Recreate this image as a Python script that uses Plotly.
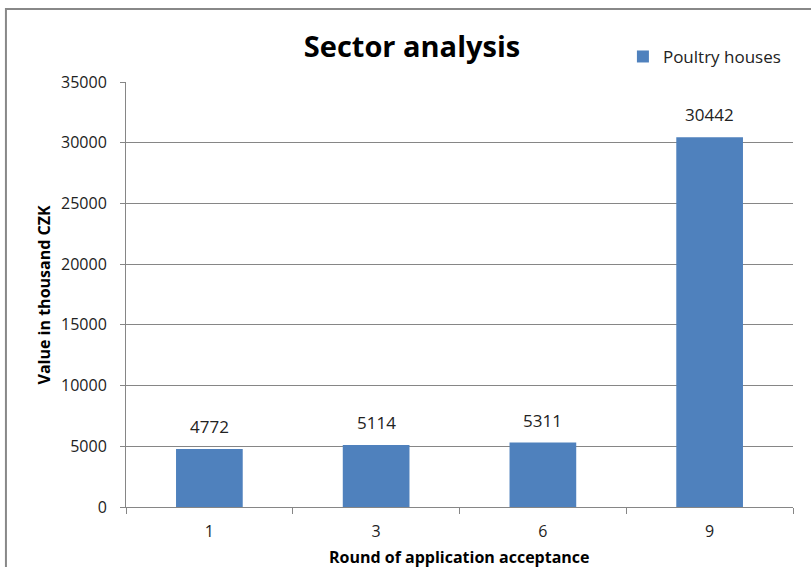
import plotly.graph_objects as go

# Funding by round of application acceptance, in thousand CZK
rounds = ["1", "3", "6", "9"]
poultry_houses = [4772, 5114, 5311, 30442]
y_ticks = [0, 5000, 10000, 15000, 20000, 25000, 30000, 35000]

BAR = "#4F81BD"
GRID = "#868686"
FONT = "Open Sans"
TXT = "#222222"

fig = go.Figure()
fig.add_trace(go.Bar(
    x=rounds, y=poultry_houses, name="Poultry houses",
    marker=dict(color=BAR, line=dict(width=0)),
))

# Value labels above each bar (category axis positions are indices)
for i, v in enumerate(poultry_houses):
    fig.add_annotation(x=i, y=v, text=str(v), showarrow=False,
                       xanchor="center", yanchor="bottom", yshift=9,
                       font=dict(family=FONT, size=17, color=TXT))

# Axis titles
fig.add_annotation(xref="paper", yref="paper", x=-0.123, y=0.5,
                   xanchor="center", yanchor="middle",
                   text="<b>Value in thousand CZK</b>", textangle=-90,
                   showarrow=False, font=dict(family=FONT, size=16, color="black"))
fig.add_annotation(xref="paper", yref="paper", x=0.5, y=-0.118,
                   xanchor="center", yanchor="middle",
                   text="<b>Round of application acceptance</b>",
                   showarrow=False, font=dict(family=FONT, size=16, color="black"))

# Chart frame
fig.add_shape(type="rect", xref="paper", yref="paper",
              x0=-0.180, x1=1.04, y0=-0.2, y1=1.1718,
              line=dict(color="#888888", width=2), fillcolor="rgba(0,0,0,0)",
              layer="below")

fig.update_layout(
    width=811, height=567,
    margin=dict(l=126, r=18, t=82, b=60),
    paper_bgcolor="white", plot_bgcolor="white",
    bargap=0.6,
    title=dict(text="<b>Sector analysis</b>", x=0.508, xanchor="center",
               y=0.917, yanchor="middle",
               font=dict(family=FONT, size=29, color="black")),
    showlegend=True,
    legend=dict(x=0.745, y=1.059, xanchor="left", yanchor="middle",
                font=dict(family=FONT, size=17, color=TXT),
                bgcolor="rgba(0,0,0,0)"),
    font=dict(family=FONT, color=TXT),
)

fig.update_xaxes(
    type="category", showgrid=False, showline=True, linecolor=GRID, linewidth=1,
    ticks="outside", tickson="boundaries", ticklen=6, tickcolor=GRID,
    ticklabelstandoff=10, tickfont=dict(family=FONT, size=16, color=TXT),
)
fig.update_yaxes(
    range=[0, 35000], tickvals=y_ticks, ticktext=[str(t) for t in y_ticks],
    showgrid=True, gridcolor=GRID, gridwidth=1, zeroline=False,
    showline=True, linecolor=GRID, linewidth=1,
    ticks="outside", ticklen=5, tickcolor=GRID,
    ticklabelstandoff=10, tickfont=dict(family=FONT, size=16, color=TXT),
)

fig.write_html("out.html")
